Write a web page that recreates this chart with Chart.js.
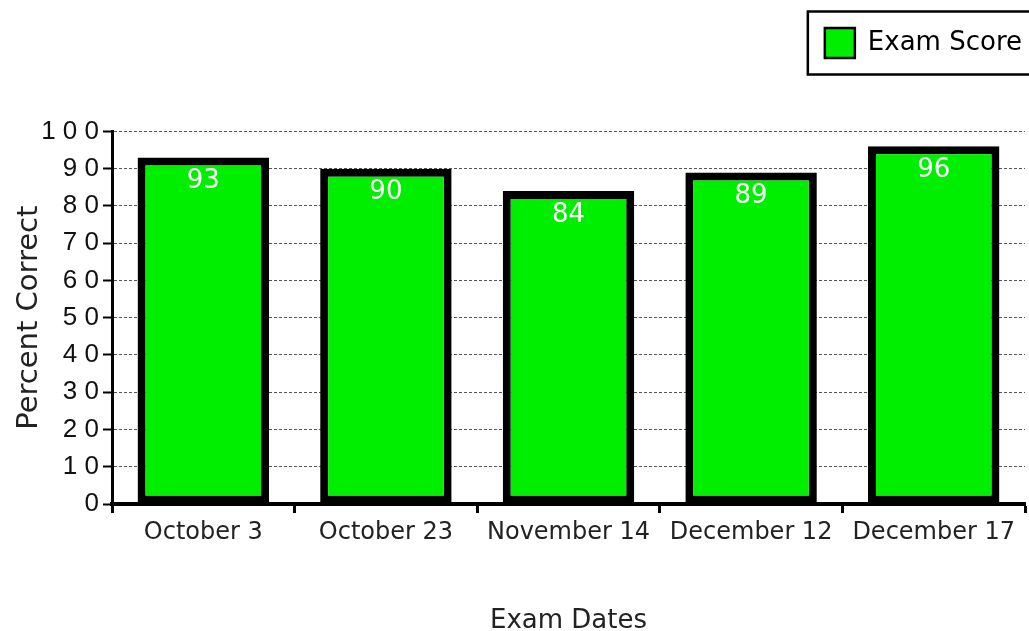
<!DOCTYPE html>
<html>
<head>
<meta charset="utf-8">
<script src="https://cdn.jsdelivr.net/npm/chart.js@4/dist/chart.umd.min.js"></script>
<style>
  html, body { margin: 0; padding: 0; background: #ffffff; }
  #wrap { width: 1029px; height: 631px; }
</style>
</head>
<body>
<div id="wrap"><canvas id="c" width="1029" height="631"></canvas></div>
<script>
const categories = ['October 3', 'October 23', 'November 14', 'December 12', 'December 17'];
const examScores = [93, 90, 84, 89, 96];
const yTickLabels = ['0', '1 0', '2 0', '3 0', '4 0', '5 0', '6 0', '7 0', '8 0', '9 0', '1 0 0'];
const seriesName = 'Exam Score';
const xTitle = 'Exam Dates';
const yTitle = 'Percent Correct';

const LABEL_FONT = "'DejaVu Sans', sans-serif";
const TICK_FONT = "'Liberation Sans', Arial, sans-serif";

const legendFrame = {
  id: 'legendFrame',
  afterDraw(chart) {
    const lg = chart.legend;
    if (!lg || !lg.legendHitBoxes || !lg.legendHitBoxes.length) return;
    const hb = lg.legendHitBoxes[0];
    const ctx = chart.ctx;
    ctx.save();
    ctx.strokeStyle = '#000';
    ctx.lineWidth = 2.5;
    const left = hb.left - 17;
    const top = hb.top + hb.height / 2 - 31.5;
    ctx.strokeRect(left, top, chart.width - left + 10, 63);
    ctx.restore();
  }
};

const valueLabels = {
  id: 'valueLabels',
  afterDatasetsDraw(chart) {
    const ctx = chart.ctx;
    const meta = chart.getDatasetMeta(0);
    ctx.save();
    ctx.fillStyle = '#ffffff';
    ctx.font = "26px " + LABEL_FONT;
    ctx.textAlign = 'center';
    ctx.textBaseline = 'middle';
    meta.data.forEach((bar, i) => {
      ctx.fillText(String(examScores[i]), bar.x, bar.y + 24);
    });
    ctx.restore();
  }
};

new Chart(document.getElementById('c'), {
  type: 'bar',
  data: {
    labels: categories,
    datasets: [{
      label: seriesName,
      data: examScores,
      backgroundColor: '#00EE00',
      borderColor: '#000000',
      borderWidth: 8,
      borderSkipped: false,
      categoryPercentage: 1.0,
      barPercentage: 0.72
    }]
  },
  options: {
    responsive: false,
    animation: false,
    devicePixelRatio: 1,
    layout: { padding: { top: 25, right: 4, left: 0, bottom: 0 } },
    plugins: {
      legend: {
        position: 'top',
        align: 'end',
        weight: 1000,
        labels: {
          boxWidth: 30,
          boxHeight: 30,
          padding: 3,
          color: '#000',
          font: { family: LABEL_FONT, size: 26 },
          generateLabels(chart) {
            const items = Chart.defaults.plugins.legend.labels.generateLabels(chart);
            items.forEach(it => { it.lineWidth = 2.5; it.strokeStyle = '#000'; });
            return items;
          }
        }
      },
      title: {
        display: true,
        text: '',
        weight: 500,
        padding: { top: 0, bottom: 49 }
      },
      tooltip: { enabled: false }
    },
    scales: {
      x: {
        offset: true,
        grid: {
          offset: true,
          drawOnChartArea: false,
          drawTicks: true,
          tickLength: 9,
          tickWidth: 3,
          tickColor: '#000'
        },
        border: { display: true, color: '#000', width: 4 },
        ticks: {
          color: '#222',
          padding: 5,
          maxRotation: 0,
          autoSkip: false,
          font: { family: LABEL_FONT, size: 24 }
        },
        title: {
          display: true,
          text: xTitle,
          color: '#222',
          font: { family: LABEL_FONT, size: 26, lineHeight: 1.0 },
          padding: { top: 0, bottom: -3 }
        },
        afterFit(scale) { scale.height = 127; }
      },
      y: {
        min: 0,
        max: 100,
        grid: {
          color: '#555',
          lineWidth: 1,
          drawTicks: true,
          tickLength: 9,
          tickWidth: 2,
          tickColor: '#000',
          tickBorderDash: []
        },
        border: { display: true, color: '#000', width: 3, dash: [3, 2] },
        ticks: {
          stepSize: 10,
          color: '#111',
          padding: 4,
          font: { family: TICK_FONT, size: 26 },
          callback: (v, i) => yTickLabels[i]
        },
        title: {
          display: true,
          text: yTitle,
          color: '#222',
          font: { family: LABEL_FONT, size: 29, lineHeight: 1.0 },
          padding: { top: 15, bottom: 0 }
        },
        afterFit(scale) { scale.width = 112; }
      }
    }
  },
  plugins: [legendFrame, valueLabels]
});
</script>
</body>
</html>
